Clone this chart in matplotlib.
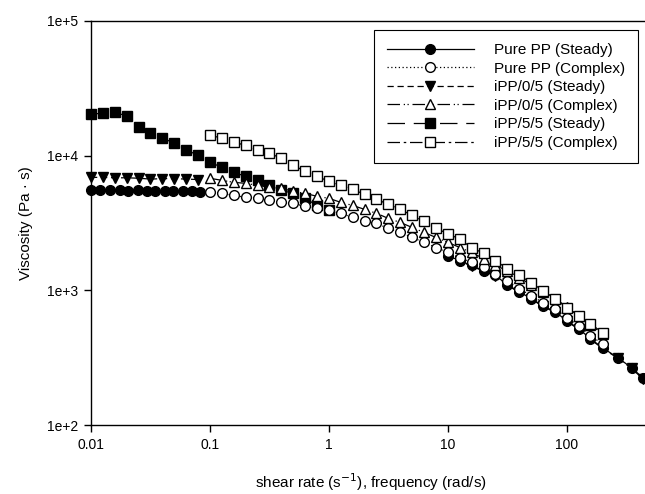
import matplotlib
matplotlib.use("Agg")
import matplotlib.pyplot as plt
from matplotlib.ticker import FixedLocator, FixedFormatter, NullLocator

plt.rcParams["font.family"] = ["Liberation Sans", "DejaVu Sans"]
plt.rcParams["font.size"] = 10

# ── data ──────────────────────────────────────────────────────────────────────

# complex viscosity, frequency sweep (rad/s)
freq = [0.1, 0.126, 0.158, 0.2, 0.251, 0.316, 0.398, 0.501, 0.631, 0.794,
        1.0, 1.26, 1.58, 2.0, 2.51, 3.16, 3.98, 5.01, 6.31, 7.94,
        10, 12.6, 15.8, 20, 25.1, 31.6, 39.8, 50.1, 63.1, 79.4,
        100, 126, 158, 200]
pp_complex = [5340, 5250, 5070, 4900, 4820, 4660, 4500, 4420, 4200, 4060,
              3920, 3730, 3480, 3300, 3140, 2880, 2690, 2470, 2270, 2080,
              1910, 1750, 1610, 1480, 1330, 1180, 1030, 913, 810, 731,
              626, 546, 460, 400]
ipp05_complex = [6790, 6560, 6340, 6230, 6020, 5820, 5720, 5430, 5250, 4990,
                 4820, 4500, 4270, 3990, 3730, 3420, 3190, 2930, 2690, 2470,
                 2270, 2080, 1910, 1720, 1530, 1400, 1240, 1100, 978, 867,
                 756, 648, 555, 470]
ipp55_complex = [14190, 13480, 12580, 11950, 10970, 10420, 9560, 8480, 7650, 7020,
                 6450, 6020, 5620, 5160, 4740, 4350, 3990, 3600, 3250, 2880,
                 2640, 2390, 2080, 1880, 1660, 1450, 1290, 1140, 995, 867,
                 743, 648, 565, 484]

# steady shear, low-rate range (1/s)
rate_pp_low = [0.0100, 0.0119, 0.0144, 0.0175, 0.0205, 0.0248, 0.0296,
               0.0345, 0.0419, 0.0489, 0.0593, 0.0707, 0.0823]
pp_steady_low = [5550, 5550, 5520, 5530, 5500, 5520, 5500,
                 5480, 5500, 5470, 5450, 5430, 5400]

rate_ipp05_low = [0.0100, 0.0126, 0.0158, 0.0200, 0.0251,
                  0.0316, 0.0398, 0.0501, 0.0631, 0.0794]
ipp05_steady_low = [6900, 6900, 6850, 6850, 6800, 6700, 6750, 6750, 6700, 6650]

rate_ipp55_low = [0.01, 0.0126, 0.0158, 0.02, 0.0251, 0.0316, 0.0398, 0.0501,
                  0.0631, 0.0794, 0.1, 0.126, 0.158, 0.2, 0.251, 0.316,
                  0.398, 0.501, 0.631, 0.794, 1.0]
ipp55_steady_low = [20300, 20700, 21000, 19700, 16300, 14700, 13500, 12400,
                    11000, 10100, 8930, 8200, 7520, 7020, 6560, 6020,
                    5530, 5250, 4820, 4270, 3920]

# steady shear, high-rate range (1/s)
rate_high = [10, 12.6, 15.8, 20, 25.1, 31.6, 39.8, 50.1, 63.1, 79.4,
             100, 126, 158, 200, 270, 350, 436]
pp_steady_high = [1810, 1660, 1530, 1400, 1290, 1100, 978, 867, 769, 694,
                  595, 518, 437, 374, 315, 266, 224]
ipp05_steady_high = [1800, 1650, 1510, 1390, 1270, 1090, 965, 860, 760, 685,
                     590, 512, 432, 370, 312, 263, 220]

x_ticks = [0.01, 0.1, 1, 10, 100]
x_labels = ["0.01", "0.1", "1", "10", "100"]
y_ticks = [1e2, 1e3, 1e4, 1e5]
y_labels = ["1e+2", "1e+3", "1e+4", "1e+5"]

# ── plot ──────────────────────────────────────────────────────────────────────

fig = plt.figure(figsize=(6.45, 4.94), dpi=100)
ax = fig.add_axes([91 / 645, 69 / 494, 559 / 645, 404 / 494])

ms = 7
mew = 1.0
lw = 0.9

styles = {
    "pp_s":    dict(ls="-", marker="o", mfc="black"),
    "pp_c":    dict(ls=(0, (1, 2)), marker="o", mfc="white"),
    "i05_s":   dict(ls=(0, (5, 3)), marker="v", mfc="black"),
    "i05_c":   dict(ls=(0, (10, 3, 1, 2, 1, 3)), marker="^", mfc="white"),
    "i55_s":   dict(ls=(0, (14, 7)), marker="s", mfc="black"),
    "i55_c":   dict(ls=(0, (10, 3, 2, 3)), marker="s", mfc="white"),
}

def draw(x, y, key, label=None):
    ax.plot(x, y, color="black", mec="black", ms=ms, mew=mew, lw=lw,
            clip_on=False, label=label if label else "_nolegend_",
            **styles[key])

# steady first, complex on top
draw(rate_pp_low, pp_steady_low, "pp_s", "Pure PP (Steady)")
draw(rate_high, pp_steady_high, "pp_s")
draw(rate_ipp05_low, ipp05_steady_low, "i05_s", "iPP/0/5 (Steady)")
draw(rate_high, ipp05_steady_high, "i05_s")
draw(rate_ipp55_low, ipp55_steady_low, "i55_s", "iPP/5/5 (Steady)")
draw(freq, pp_complex, "pp_c", "Pure PP (Complex)")
draw(freq, ipp05_complex, "i05_c", "iPP/0/5 (Complex)")
draw(freq, ipp55_complex, "i55_c", "iPP/5/5 (Complex)")

ax.set_xscale("log")
ax.set_yscale("log")
ax.set_xlim(0.01, 500)
ax.set_ylim(100, 1e5)

ax.xaxis.set_major_locator(FixedLocator(x_ticks))
ax.xaxis.set_major_formatter(FixedFormatter(x_labels))
ax.xaxis.set_minor_locator(NullLocator())
ax.yaxis.set_major_locator(FixedLocator(y_ticks))
ax.yaxis.set_major_formatter(FixedFormatter(y_labels))
ax.yaxis.set_minor_locator(NullLocator())
ax.tick_params(direction="out", length=5, width=1, labelsize=10, pad=4)

for s in ax.spines.values():
    s.set_linewidth(1.0)

ax.set_xlabel("shear rate (s$^{-1}$), frequency (rad/s)", fontsize=11, labelpad=14)
ax.set_ylabel("Viscosity (Pa \u00b7 s)", fontsize=11, labelpad=10)

# legend in the reference order
handles, labels = ax.get_legend_handles_labels()
order = ["Pure PP (Steady)", "Pure PP (Complex)", "iPP/0/5 (Steady)",
         "iPP/0/5 (Complex)", "iPP/5/5 (Steady)", "iPP/5/5 (Complex)"]
hmap = dict(zip(labels, handles))
leg = ax.legend([hmap[o] for o in order], order, loc="upper right",
                bbox_to_anchor=(638 / 645, 1 - 30 / 494),
                bbox_transform=fig.transFigure, borderaxespad=0,
                numpoints=1, handlelength=5.7, handletextpad=1.3,
                labelspacing=0.3, borderpad=0.85, fancybox=False,
                framealpha=1, edgecolor="black", fontsize=11)
leg.get_frame().set_linewidth(0.8)

fig.savefig("out.png", dpi=100)
